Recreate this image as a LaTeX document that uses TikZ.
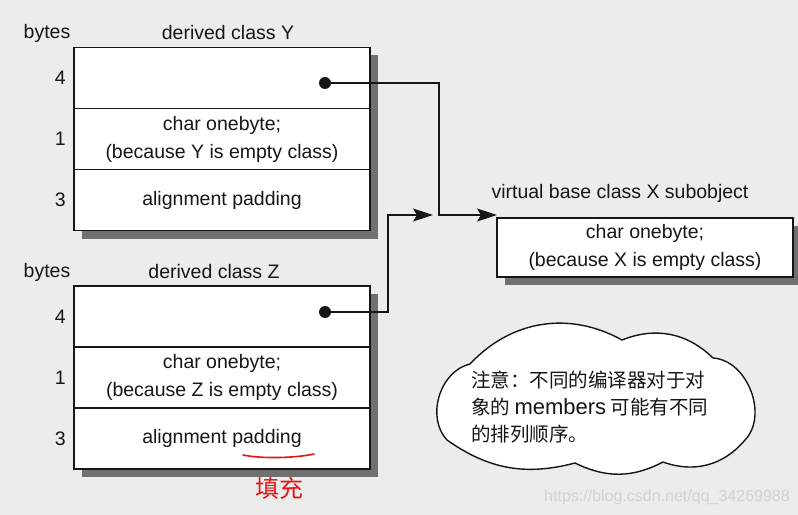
\documentclass[tikz,border=0pt]{standalone}
\usepackage{fontspec}
\setmainfont{Liberation Sans}
\newfontfamily\cjk{Noto Sans CJK SC}
\usepackage{xcolor}
\usepackage{tikz}
\usetikzlibrary{arrows.meta,calc,positioning,shadows}
\definecolor{paper}{RGB}{236,236,236}
\definecolor{ink}{RGB}{22,22,22}
\definecolor{shade}{RGB}{112,112,112}
\definecolor{pen}{RGB}{230,20,20}

\begin{document}
\begin{tikzpicture}[
  x=1bp,y=-1bp,
  font=\fontsize{19.5bp}{28bp}\selectfont,
  cell/.style={draw=ink,fill=white,line width=1.5bp,minimum width=296bp,minimum height=61bp,inner sep=2bp,outer sep=0pt,align=center,text=ink,
    drop shadow={shadow xshift=8bp,shadow yshift=-8bp,fill=shade,opacity=1}},
  lbl/.style={text=ink,inner sep=2bp},
  dot/.style={circle,fill=ink,inner sep=0pt,minimum size=12bp},
  ptr/.style={draw=ink,line width=1.4bp,-{Stealth[length=20bp,width=13bp,inset=4bp]}},
  bubble/.style={draw=ink,fill=white,line width=1.4bp,line join=round},
  node distance=6bp
]
\path[fill=paper,use as bounding box] (0,0) rectangle (798,515);
\node[cell] (Y4) at (222,78) {};
\node[cell,below=0pt of Y4] (Y1) {char onebyte;\\(because Y is empty class)};
\node[cell,below=0pt of Y1] (Y3) {alignment padding};
\node[lbl,left=of Y4] (nY4) {4};
\node[lbl,left=of Y1] (nY1) {1};
\node[lbl,left=of Y3] (nY3) {3};
\node[lbl] (byY) at (47,33) {bytes};
\node[lbl] (tY) at (228,33) {derived class Y};
\node[cell] (Z4) at (222,316.5) {};
\node[cell,below=0pt of Z4] (Z1) {char onebyte;\\(because Z is empty class)};
\node[cell,below=0pt of Z1] (Z3) {alignment padding};
\node[lbl,left=of Z4] (nZ4) {4};
\node[lbl,left=of Z1] (nZ1) {1};
\node[lbl,left=of Z3] (nZ3) {3};
\node[lbl] (byZ) at (47,272) {bytes};
\node[lbl] (tZ) at (214,272) {derived class Z};
\node[cell,minimum height=59bp] (X) at (645,247.5) {char onebyte;\\(because X is empty class)};
\node[lbl] (tX) at (620,193) {virtual base class X subobject};
\node[dot] (dY) at (325,83) {};
\node[dot] (dZ) at (325,312) {};
\coordinate (jY) at (439,215);
\coordinate (jZ) at (388,215);
\coordinate (eZ) at (433,215);
\draw[ptr] (dY) -| (jY) -- (jY -| X.west);
\draw[ptr] (dZ) -| (jZ) -- (eZ);
\draw[bubble] (447,440) to[bend left=60] (470,364) to[bend left=38] (622,340) to[bend left=33] (713,358)
  to[bend left=65] (745,440) to[bend left=35] (663,462) to[bend left=27] (575,463) to[bend left=25] (447,440) -- cycle;
\node[text=ink,align=left,inner sep=0pt,anchor=west,font=\cjk\fontsize{19.5bp}{27bp}\selectfont] (memo) at (471,407)
  {注意：不同的编译器对于对\\象的 {\normalfont\fontsize{22bp}{27bp}\selectfont members} 可能有不同\\的排列顺序。};
\coordinate (ulA) at (243,455);
\coordinate (ulB) at (314,454);
\draw[pen,line width=1.6bp,line cap=round] (ulA) .. controls (262,459) and (296,458) .. (ulB);
\node[text=pen,font=\cjk\fontsize{24bp}{24bp}\selectfont] (fillnote) at (279,488) {填充};
\node[text=black!18,font=\fontsize{16bp}{16bp}\selectfont] (wm) at (667,497) {https://blog.csdn.net/qq\_34269988};
\end{tikzpicture}
\end{document}
